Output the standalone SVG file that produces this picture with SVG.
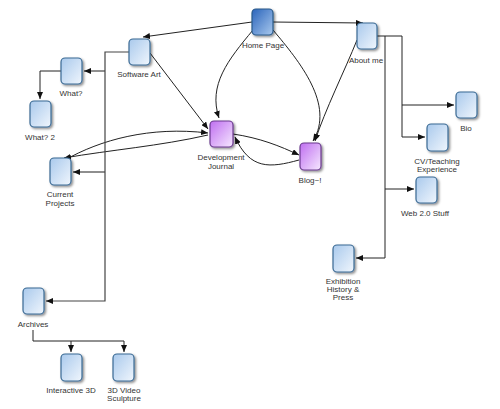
<svg xmlns="http://www.w3.org/2000/svg" width="500" height="409" viewBox="0 0 500 409">
<defs>
<linearGradient id="gBlue" x1="0" y1="0" x2="1" y2="1">
<stop offset="0" stop-color="#a9c9ec"/>
<stop offset="1" stop-color="#f0f6fd"/>
</linearGradient>
<linearGradient id="gHome" x1="0" y1="0" x2="1" y2="1">
<stop offset="0" stop-color="#2a64bb"/>
<stop offset="1" stop-color="#a9c9ee"/>
</linearGradient>
<linearGradient id="gPurple" x1="0" y1="0" x2="1" y2="1">
<stop offset="0" stop-color="#bf6ef0"/>
<stop offset="1" stop-color="#f6e8ff"/>
</linearGradient>
<filter id="sh" x="-30%" y="-30%" width="160%" height="160%">
<feDropShadow dx="1.5" dy="1.5" stdDeviation="1" flood-color="#000" flood-opacity="0.45"/>
</filter>
<marker id="ah" markerUnits="userSpaceOnUse" markerWidth="8" markerHeight="6" refX="7" refY="3" orient="auto">
<path d="M0,0 L7,3 L0,6 z" fill="#111"/>
</marker>
</defs>
<style>
.box{fill:url(#gBlue);stroke:#3a6a94;stroke-width:1.2;filter:url(#sh)}
.home{fill:url(#gHome);stroke:#2a5a8a;stroke-width:1.2;filter:url(#sh)}
.pur{fill:url(#gPurple);stroke:#6a3a8e;stroke-width:1.2;filter:url(#sh)}
text{font-family:"Liberation Sans",Arial,sans-serif;font-size:8px;fill:#333;text-anchor:middle}
.c{fill:none;stroke:#222;stroke-width:1}
.e{fill:none;stroke:#444;stroke-width:1.2}
</style>
<g id="connectors">
<path class="c" d="M273,22 L363,23" marker-end="url(#ah)"/>
<path class="c" d="M252,22 L143,37" marker-end="url(#ah)"/>
<path class="c" d="M253,30 C228,60 208,85 219,118" marker-end="url(#ah)"/>
<path class="c" d="M273,30 C300,62 335,105 313,141" marker-end="url(#ah)"/>
<path class="c" d="M357,40 C345,70 325,110 315,141" marker-end="url(#ah)"/>
<path class="c" d="M150,53 L208,129" marker-end="url(#ah)"/>
<path class="c" d="M65,160 C100,140 150,126 208,133" marker-end="url(#ah)"/>
<path class="c" d="M208,135 C160,146 110,150 64,158" marker-end="url(#ah)"/>
<path class="c" d="M233,134 C260,138 280,146 299,155" marker-end="url(#ah)"/>
<path class="c" d="M299,160 C270,168 250,170 235,137" marker-end="url(#ah)"/>
<path class="e" d="M129,52 H105 V301 H46" marker-end="url(#ah)"/>
<path class="e" d="M105,71 H84" marker-end="url(#ah)"/>
<path class="e" d="M105,172 H73" marker-end="url(#ah)"/>
<path class="c" d="M61,71 H40 V99" marker-end="url(#ah)"/>
<path class="c" d="M377,36 H402 V137 H425" marker-end="url(#ah)"/>
<path class="c" d="M402,105 H454" marker-end="url(#ah)"/>
<path class="c" d="M385,36 V258 H356" marker-end="url(#ah)"/>
<path class="c" d="M385,189 H414" marker-end="url(#ah)"/>
<path class="c" d="M33,330 V341 H124 V352" marker-end="url(#ah)"/>
<path class="c" d="M71,341 V352" marker-end="url(#ah)"/>
</g>
<g id="home"><rect class="home" x="252" y="9" width="21" height="26" rx="4"/><text x="263" y="48">Home Page</text></g>
<g id="about"><rect class="box" x="357" y="23" width="20" height="26" rx="4"/><text x="366" y="63">About me</text></g>
<g id="software"><rect class="box" x="129" y="39" width="21" height="26" rx="4"/><text x="139" y="77">Software Art</text></g>
<g id="what"><rect class="box" x="61" y="58" width="21" height="26" rx="4"/><text x="71" y="96">What?</text></g>
<g id="what2"><rect class="box" x="30" y="101" width="21" height="26" rx="4"/><text x="40" y="140">What? 2</text></g>
<g id="current"><rect class="box" x="50" y="158" width="21" height="27" rx="4"/><text x="60" y="197">Current</text><text x="60" y="206">Projects</text></g>
<g id="devjournal"><rect class="pur" x="210" y="121" width="23" height="26" rx="4"/><text x="221" y="160">Development</text><text x="221" y="169">Journal</text></g>
<g id="blog"><rect class="pur" x="300" y="143" width="21" height="27" rx="4"/><text x="310" y="183">Blog~!</text></g>
<g id="bio"><rect class="box" x="456" y="92" width="21" height="26" rx="4"/><text x="466" y="131">Bio</text></g>
<g id="cv"><rect class="box" x="427" y="124" width="21" height="27" rx="4"/><text x="437" y="164">CV/Teaching</text><text x="437" y="172">Experience</text></g>
<g id="web"><rect class="box" x="416" y="177" width="21" height="26" rx="4"/><text x="425" y="216">Web 2.0 Stuff</text></g>
<g id="exhibition"><rect class="box" x="333" y="245" width="21" height="27" rx="4"/><text x="343" y="284">Exhibition</text><text x="343" y="292">History &amp;</text><text x="343" y="300">Press</text></g>
<g id="archives"><rect class="box" x="23" y="288" width="21" height="26" rx="4"/><text x="33" y="327">Archives</text></g>
<g id="interactive3d"><rect class="box" x="61" y="354" width="21" height="27" rx="4"/><text x="71" y="393">Interactive 3D</text></g>
<g id="videosculpture"><rect class="box" x="113" y="354" width="21" height="27" rx="4"/><text x="124" y="393">3D Video</text><text x="124" y="401">Sculpture</text></g>
</svg>
